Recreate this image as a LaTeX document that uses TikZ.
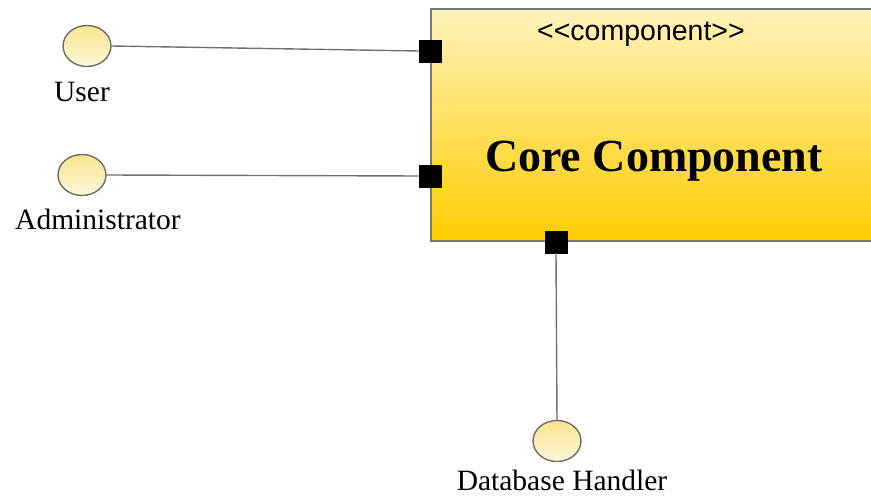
\documentclass[tikz,border=0pt]{standalone}
\usepackage{fontspec}
\setmainfont{Liberation Serif}
\newfontfamily\stereofont{Liberation Sans}
\usetikzlibrary{shapes.geometric}

\definecolor{boxedge}{HTML}{7A7A72}
\definecolor{boxtop}{HTML}{FFF3BC}
\definecolor{boxbottom}{HTML}{FFCC00}
\definecolor{ifctop}{HTML}{F8E590}
\definecolor{ifcbottom}{HTML}{FFF8DA}
\definecolor{ifcedge}{HTML}{6E6E66}
\definecolor{wire}{HTML}{707070}

\tikzset{
  component/.style={draw=boxedge, line width=1.2pt, top color=boxtop,
    bottom color=boxbottom, minimum width=449pt, minimum height=232pt,
    inner sep=0pt},
  port/.style={fill=black, draw=black, minimum size=22pt, inner sep=0pt},
  iface/.style={ellipse, draw=ifcedge, line width=1.4pt, top color=ifctop,
    bottom color=ifcbottom, minimum width=48pt, minimum height=41pt,
    inner sep=0pt},
  ifacelabel/.style={anchor=base, inner sep=0pt,
    font=\fontsize{29.5}{31}\selectfont},
  wireline/.style={draw=wire, line width=1.4pt},
}

\begin{document}
\begin{tikzpicture}[x=1pt, y=-1pt]
  \useasboundingbox (0,0) rectangle (871,497);

  % component body (runs past the right edge)
  \node[component] (core) at (655.5,125) {};
  \node[anchor=base, inner sep=0pt, font=\stereofont\fontsize{28.5}{30}\selectfont]
    (stereo) at (641,41) {<{}<component>{}>};
  \node[anchor=base, inner sep=0pt, font=\bfseries\fontsize{46}{48}\selectfont]
    (title) at (654,172) {Core Component};

  % ports on the component border
  \node[port] (pUser)  at (430,51)  {};
  \node[port] (pAdmin) at (430,176) {};
  \node[port] (pDb)    at (556,242) {};

  % provided interfaces
  \node[iface] (user)  at (87,46)  {};
  \node[iface] (admin) at (82,175) {};
  \node[iface] (db)    at (557,441) {};

  \node[ifacelabel] (userlbl)  at (82,102)  {User};
  \node[ifacelabel] (adminlbl) at (98,230)  {Administrator};
  \node[ifacelabel] (dblbl)    at (562,490) {Database Handler};

  % connectors
  \draw[wireline] (user.east)  -- (pUser.west);
  \draw[wireline] (admin.east) -- (pAdmin.west);
  \draw[wireline] (pDb.south)  -- (db.north);
\end{tikzpicture}
\end{document}
